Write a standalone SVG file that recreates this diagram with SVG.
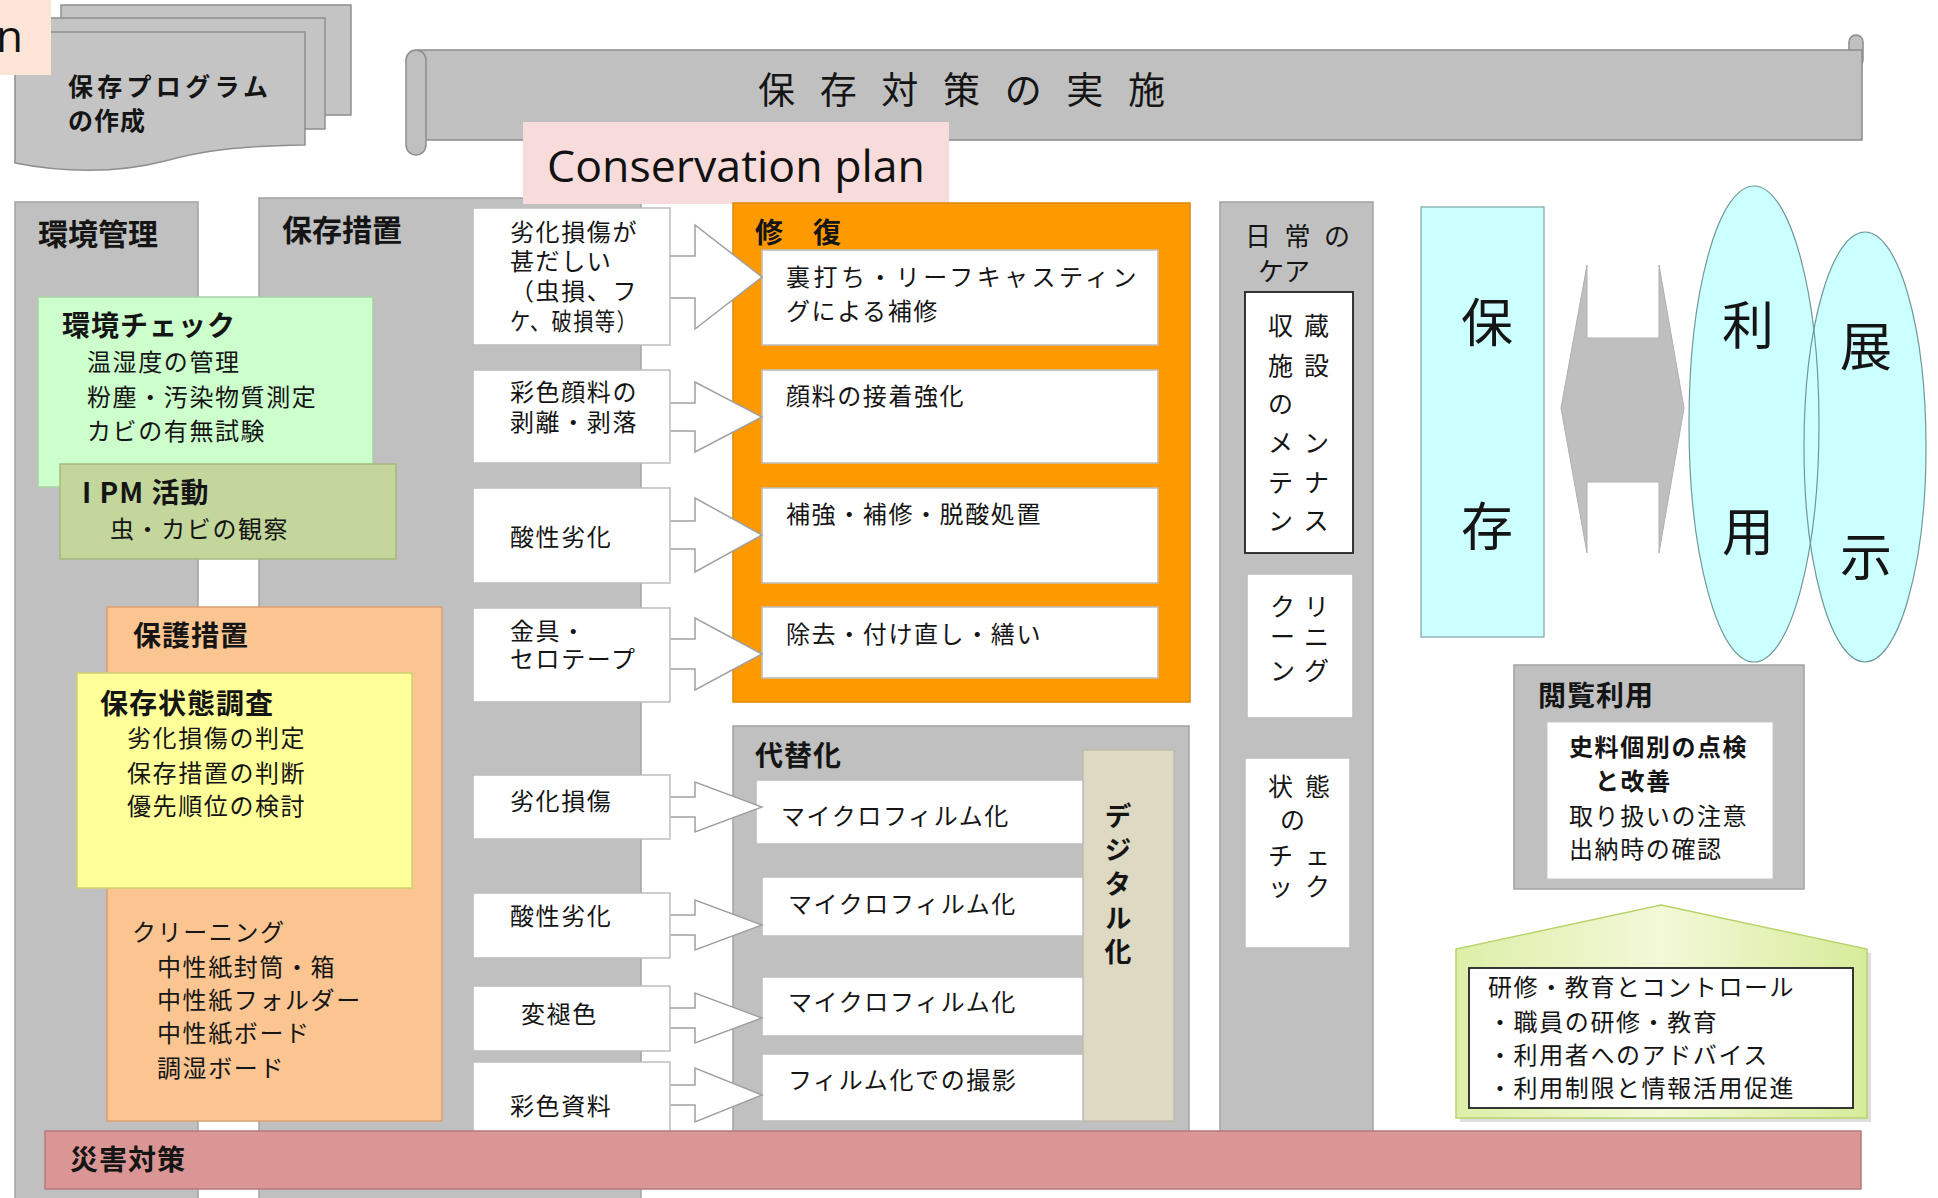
<svg xmlns="http://www.w3.org/2000/svg" width="1938" height="1198" viewBox="0 0 1938 1198">
<defs>
<style>
.t{font-family:"Noto Sans CJK JP","Noto Sans CJK SC",sans-serif;fill:#151515}
.b{font-weight:bold}
.h30{font-size:30px}
.h28{font-size:28px;letter-spacing:1px}
.m{font-size:24px;letter-spacing:1.6px}
.n{font-weight:normal;font-size:24px;letter-spacing:1.6px}
.v{font-size:25px}
.big{font-size:52px;text-anchor:middle}
.col{fill:#c0c0c0;stroke:#a3a3a3;stroke-width:1.5}
.wb{fill:#ffffff;stroke:#bdbdbd;stroke-width:1.5}
.arr{fill:#ffffff;stroke:#a0a0a0;stroke-width:1.5}
.blk{fill:#ffffff;stroke:#222;stroke-width:1.8}
</style>
<linearGradient id="hg" x1="0" y1="0" x2="1" y2="0">
<stop offset="0" stop-color="#dcefa8"/>
<stop offset="0.5" stop-color="#f3f8d8"/>
<stop offset="1" stop-color="#d6ec9a"/>
</linearGradient>
</defs>
<rect width="1938" height="1198" fill="#ffffff"/>

<g id="program">
<rect x="61" y="5" width="290" height="110" fill="#c4c4c4" stroke="#8f8f8f" stroke-width="1.5"/>
<rect x="50" y="18" width="275" height="111" fill="#c4c4c4" stroke="#8f8f8f" stroke-width="1.5"/>
<path d="M15,32 H305 V145 C240,146 205,150 165,161 C115,174 60,172 15,163 Z" fill="#c4c4c4" stroke="#8f8f8f" stroke-width="1.5"/>
<text class="t b" font-size="25"><tspan x="68" y="96" textLength="200" lengthAdjust="spacing">保存プログラム</tspan><tspan x="68" y="130" letter-spacing="1">の作成</tspan></text>
</g>

<g id="label-n">
<rect x="0" y="0" width="51" height="75" fill="#fce4d6"/>
<text x="-4" y="52" font-family="'Open Sans','Liberation Sans',sans-serif" font-size="44" fill="#111">n</text>
</g>

<g id="banner">
<rect x="1849" y="35" width="14" height="32" rx="7" fill="#c0c0c0" stroke="#8c8c8c" stroke-width="1.5"/>
<rect x="418" y="50" width="1444" height="90" fill="#c0c0c0" stroke="#8c8c8c" stroke-width="1.5"/>
<rect x="406" y="50" width="20" height="105" rx="10" fill="#c0c0c0" stroke="#8c8c8c" stroke-width="1.5"/>
<text class="t" x="758" y="104" font-size="37" textLength="407" lengthAdjust="spacing">保 存 対 策 の 実 施</text>
</g>

<g id="col-kankyo">
<rect class="col" x="15" y="202" width="183" height="1000"/>
<text class="t b h30" x="38" y="245">環境管理</text>
</g>

<g id="col-hozon">
<rect class="col" x="259" y="198" width="382" height="1004"/>
<text class="t b h30" x="282" y="241">保存措置</text>
</g>

<g id="col-nichijo">
<rect class="col" x="1220" y="202" width="153" height="935"/>
<text class="t" font-size="26"><tspan x="1245" y="246" textLength="105" lengthAdjust="spacing">日 常 の</tspan><tspan x="1258" y="281">ケア</tspan></text>
</g>

<g id="conservation-plan">
<rect x="523" y="122" width="426" height="82" fill="#f8dcdc"/>
<text x="547" y="182" font-family="'Open Sans','Liberation Sans',sans-serif" font-size="44" fill="#111" textLength="378" lengthAdjust="spacingAndGlyphs">Conservation plan</text>
</g>

<g id="kankyo-check">
<rect x="38" y="297" width="335" height="190" fill="#ccffcc" stroke="#a9cfa9" stroke-width="1.5"/>
<text class="t b h28"><tspan x="62" y="336">環境チェック</tspan><tspan class="n" x="87" y="371">温湿度の管理</tspan><tspan class="n" x="87" y="406">粉塵・汚染物質測定</tspan><tspan class="n" x="87" y="440">カビの有無試験</tspan></text>
</g>

<g id="ipm">
<rect x="60" y="464" width="336" height="95" fill="#c3d69b" stroke="#a6b97c" stroke-width="1.5"/>
<text class="t b h28"><tspan x="82" y="503">I PM 活動</tspan><tspan class="n" x="110" y="538">虫・カビの観察</tspan></text>
</g>

<g id="hogo">
<rect x="107" y="607" width="335" height="514" fill="#fbc592" stroke="#d9a070" stroke-width="1.5"/>
<text class="t b h28" x="133" y="646">保護措置</text>
<text class="t m"><tspan x="132" y="941">クリーニング</tspan><tspan x="157" y="976">中性紙封筒・箱</tspan><tspan x="157" y="1009">中性紙フォルダー</tspan><tspan x="157" y="1042">中性紙ボード</tspan><tspan x="157" y="1077">調湿ボード</tspan></text>
</g>

<g id="jotai-chosa">
<rect x="77" y="673" width="335" height="215" fill="#ffff99" stroke="#d0d070" stroke-width="1.5"/>
<text class="t b h28"><tspan x="100" y="714">保存状態調査</tspan><tspan class="n" x="127" y="747">劣化損傷の判定</tspan><tspan class="n" x="127" y="782">保存措置の判断</tspan><tspan class="n" x="127" y="815">優先順位の検討</tspan></text>
</g>

<g id="shufuku">
<rect x="733" y="203" width="457" height="499" fill="#ff9900" stroke="#e08600" stroke-width="1.5"/>
<text class="t b h28" x="755" y="243">修　復</text>
<rect class="wb" x="762" y="250" width="396" height="95"/>
<rect class="wb" x="762" y="370" width="396" height="93"/>
<rect class="wb" x="762" y="488" width="396" height="95"/>
<rect class="wb" x="762" y="607" width="396" height="71"/>
<text class="t m"><tspan x="786" y="286" textLength="352" lengthAdjust="spacing">裏打ち・リーフキャスティン</tspan><tspan x="786" y="320">グによる補修</tspan></text>
<text class="t m" x="786" y="405">顔料の接着強化</text>
<text class="t m" x="786" y="523">補強・補修・脱酸処置</text>
<text class="t m" x="786" y="643">除去・付け直し・繕い</text>
</g>

<g id="daitaika">
<rect x="733" y="726" width="456" height="410" fill="#c0c0c0" stroke="#a3a3a3" stroke-width="1.5"/>
<text class="t b h28" x="755" y="766">代替化</text>
<rect x="1083" y="750" width="91" height="371" fill="#ddd9c3" stroke="#bdb8a0" stroke-width="1.2"/>
<rect class="wb" x="756" y="780" width="327" height="64"/>
<rect class="wb" x="762" y="877" width="321" height="59"/>
<rect class="wb" x="762" y="977" width="321" height="59"/>
<rect class="wb" x="762" y="1054" width="321" height="67"/>
<text class="t m" x="781" y="825">マイクロフィルム化</text>
<text class="t m" x="788" y="913">マイクロフィルム化</text>
<text class="t m" x="788" y="1011">マイクロフィルム化</text>
<text class="t m" x="788" y="1089">フィルム化での撮影</text>
<text class="t b" x="1118" y="802" font-size="27" writing-mode="vertical-rl" letter-spacing="7">デジタル化</text>
</g>

<g id="connectors">
<path class="arr" d="M665,256 H695 V225 L762,277 L695,329 V298 H665"/>
<path class="arr" d="M665,403 H695 V382 L762,417 L695,452 V431 H665"/>
<path class="arr" d="M665,521 H695 V498 L762,535 L695,572 V549 H665"/>
<path class="arr" d="M665,639 H695 V618 L762,654 L695,690 V669 H665"/>
<path class="arr" d="M665,797 H695 V782 L762,807 L695,832 V817 H665"/>
<path class="arr" d="M665,915 H695 V900 L762,925 L695,950 V935 H665"/>
<path class="arr" d="M665,1008 H695 V993 L762,1018 L695,1043 V1028 H665"/>
<path class="arr" d="M665,1085 H695 V1068 L762,1095 L695,1122 V1105 H665"/>
<polygon points="1561,408 1587,265 1587,338 1659,338 1659,265 1684,408 1659,553 1659,482 1587,482 1587,553" fill="#bfbfbf" stroke="#b0b0b0" stroke-width="1"/>
</g>

<g id="causes">
<rect class="wb" x="473" y="208" width="197" height="137"/>
<rect class="wb" x="473" y="370" width="197" height="93"/>
<rect class="wb" x="473" y="488" width="197" height="95"/>
<rect class="wb" x="473" y="608" width="197" height="94"/>
<rect class="wb" x="473" y="775" width="197" height="64"/>
<rect class="wb" x="473" y="893" width="197" height="65"/>
<rect class="wb" x="473" y="986" width="197" height="65"/>
<rect class="wb" x="473" y="1062" width="197" height="80"/>
<text class="t m"><tspan x="510" y="241">劣化損傷が</tspan><tspan x="510" y="270">甚だしい</tspan><tspan x="510" y="300">（虫損、フ</tspan><tspan x="510" y="330" textLength="128" lengthAdjust="spacingAndGlyphs">ケ、破損等）</tspan></text>
<text class="t m"><tspan x="510" y="401">彩色顔料の</tspan><tspan x="510" y="431">剥離・剥落</tspan></text>
<text class="t m" x="510" y="546">酸性劣化</text>
<text class="t m"><tspan x="510" y="640">金具・</tspan><tspan x="510" y="668">セロテープ</tspan></text>
<text class="t m" x="510" y="810">劣化損傷</text>
<text class="t m" x="510" y="925">酸性劣化</text>
<text class="t m" x="521" y="1023">変褪色</text>
<text class="t m" x="510" y="1115">彩色資料</text>
</g>

<g id="shuzo">
<rect class="blk" x="1245" y="292" width="108" height="261"/>
<text class="t v" letter-spacing="11"><tspan x="1268" y="335">収蔵</tspan><tspan x="1268" y="375">施設</tspan><tspan x="1268" y="413">の</tspan><tspan x="1268" y="452">メン</tspan><tspan x="1268" y="492">テナ</tspan><tspan x="1268" y="530">ンス</tspan></text>
</g>

<g id="cleaning">
<rect class="wb" x="1247" y="574" width="106" height="144"/>
<text class="t v" letter-spacing="9"><tspan x="1270" y="616">クリ</tspan><tspan x="1270" y="646">ーニ</tspan><tspan x="1270" y="680">ング</tspan></text>
</g>

<g id="jotai-check">
<rect class="wb" x="1245" y="758" width="105" height="190"/>
<text class="t v" letter-spacing="12"><tspan x="1268" y="796">状態</tspan><tspan x="1280" y="829">の</tspan><tspan x="1268" y="865">チェ</tspan><tspan x="1268" y="896">ック</tspan></text>
</g>

<g id="hozon">
<rect x="1421" y="207" width="123" height="430" fill="#ccffff" stroke="#7fa6a6" stroke-width="1.2"/>
<text class="t big" x="1487" y="342">保</text>
<text class="t big" x="1487" y="546">存</text>
</g>

<g id="riyo">
<ellipse cx="1754" cy="424" rx="65" ry="238" fill="#ccffff"/>
<ellipse cx="1865" cy="447" rx="61" ry="215" fill="#ccffff"/>
<ellipse cx="1754" cy="424" rx="65" ry="238" fill="none" stroke="#6f9898" stroke-width="1.2"/>
<text class="t big" x="1748" y="345">利</text>
<text class="t big" x="1748" y="551">用</text>
</g>

<g id="tenji">
<ellipse cx="1865" cy="447" rx="61" ry="215" fill="none" stroke="#6f9898" stroke-width="1.2"/>
<text class="t big" x="1866" y="366">展</text>
<text class="t big" x="1866" y="576">示</text>
</g>

<g id="etsuran">
<rect class="col" x="1514" y="665" width="290" height="224"/>
<text class="t b h28" x="1538" y="706">閲覧利用</text>
<rect x="1547" y="722" width="226" height="157" fill="#ffffff" stroke="#c8c8c8" stroke-width="1"/>
<text class="t m"><tspan class="b" x="1569" y="756">史料個別の点検</tspan><tspan class="b" x="1595" y="790">と改善</tspan><tspan x="1569" y="825">取り扱いの注意</tspan><tspan x="1569" y="858">出納時の確認</tspan></text>
</g>

<g id="kenshu">
<polygon points="1661,909 1871,953 1871,1122 1460,1122 1460,953" fill="#c8c8c8" opacity="0.6"/>
<polygon points="1661,905 1867,949 1867,1118 1456,1118 1456,949" fill="url(#hg)" stroke="#b6d46a" stroke-width="1.5"/>
<rect class="blk" x="1469" y="968" width="384" height="140"/>
<text class="t m"><tspan x="1488" y="996">研修・教育とコントロール</tspan><tspan x="1488" y="1031">・職員の研修・教育</tspan><tspan x="1488" y="1064">・利用者へのアドバイス</tspan><tspan x="1488" y="1097">・利用制限と情報活用促進</tspan></text>
</g>

<g id="saigai">
<rect x="45" y="1131" width="1816" height="58" fill="#da9694" stroke="#b57a78" stroke-width="1.5"/>
<text class="t b h28" x="70" y="1170">災害対策</text>
</g>
</svg>
